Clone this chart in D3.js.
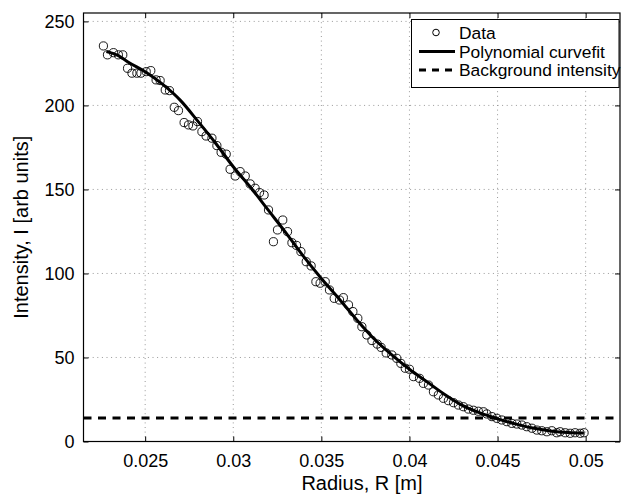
<!DOCTYPE html>
<html><head><meta charset="utf-8">
<script src="https://cdn.jsdelivr.net/npm/d3@7"></script>
<style>body{margin:0;background:#fff}svg{display:block}text{font-family:"Liberation Sans",Arial,sans-serif;fill:#000}</style>
</head><body>
<script>
// Data points (Radius [m], Intensity)
const dataR = [0.02263,0.02286,0.02320,0.02348,0.02373,0.02400,0.02425,0.02453,0.02476,0.02506,0.02532,0.02562,0.02585,0.02614,0.02638,0.02665,0.02689,0.02721,0.02746,0.02771,0.02797,0.02822,0.02846,0.02879,0.02907,0.02931,0.02960,0.02982,0.03011,0.03039,0.03068,0.03096,0.03124,0.03149,0.03175,0.03200,0.03228,0.03251,0.03281,0.03308,0.03333,0.03359,0.03384,0.03414,0.03442,0.03469,0.03493,0.03522,0.03546,0.03573,0.03603,0.03625,0.03654,0.03679,0.03707,0.03730,0.03758,0.03787,0.03817,0.03839,0.03868,0.03900,0.03928,0.03951,0.03976,0.04000,0.04023,0.04057,0.04079,0.04108,0.04136,0.04164,0.04193,0.04221,0.04250,0.04278,0.04306,0.04335,0.04363,0.04391,0.04420,0.04439,0.04468,0.04496,0.04524,0.04553,0.04581,0.04609,0.04638,0.04666,0.04695,0.04723,0.04751,0.04780,0.04808,0.04836,0.04855,0.04884,0.04912,0.04940,0.04969,0.04991];
const dataI = [235.4,230.1,231.4,230.1,230.1,222.1,219.2,219.2,219.2,220.1,220.7,215.2,214.8,209.2,208.8,198.9,196.9,189.8,188.4,187.8,190.4,184.4,181.8,180.5,176.1,172.1,171.0,162.0,158.0,160.6,158.0,153.3,150.7,148.1,146.7,137.8,118.9,125.9,131.8,124.9,118.3,116.7,113.0,107.0,104.5,95.1,94.2,95.1,90.2,85.2,84.2,85.6,81.3,77.3,73.3,68.3,63.4,60.1,58.0,56.0,52.7,51.5,49.5,46.5,43.6,43.0,38.6,37.6,34.6,33.6,29.6,27.7,25.7,24.3,23.1,21.7,20.7,19.3,18.6,18.0,17.7,16.4,14.8,13.8,12.8,11.8,10.8,10.4,9.8,8.8,7.9,6.8,6.4,5.8,6.4,5.2,5.8,5.2,4.9,5.2,4.9,5.2];
// Polynomial curvefit
const fitR = [0.0228,0.0235,0.024,0.025,0.026,0.027,0.028,0.029,0.030,0.031,0.032,0.033,0.034,0.035,0.036,0.037,0.038,0.039,0.040,0.041,0.042,0.043,0.044,0.045,0.046,0.047,0.048,0.049,0.0499];
const fitI = [232,229.5,226,220,212.5,203,190.5,177.5,163.5,151,137.5,124,110,97,85,72.5,61,51.5,43,35.5,28,21.5,17,13.5,10.5,8,6.3,5.3,5];
const backgroundI = 14;
const xTicks = [0.025,0.03,0.035,0.04,0.045,0.05];
const xTickLabels = ["0.025","0.03","0.035","0.04","0.045","0.05"];
const yTicks = [0,50,100,150,200,250];
const legendLabels = ["Data","Polynomial curvefit","Background intensity"];
const xLabel = "Radius, R [m]";
const yLabel = "Intensity, I [arb units]";

const W=623,H=499;
const m={l:83.5,r:620,t:13,b:441.5};
const svg=d3.select("body").append("svg").attr("width",W).attr("height",H);
const x=d3.scaleLinear().domain([0.0215,0.05195]).range([m.l,m.r]);
const y=d3.scaleLinear().domain([0,255]).range([m.b,m.t]);

// grid
const g=svg.append("g");
g.selectAll(".gx").data(xTicks).enter().append("line")
 .attr("x1",d=>x(d)).attr("x2",d=>x(d)).attr("y1",m.t).attr("y2",m.b)
 .attr("stroke","#999").attr("stroke-width",1).attr("stroke-dasharray","1,3.6");
g.selectAll(".gy").data(yTicks.filter(d=>d>0)).enter().append("line")
 .attr("y1",d=>y(d)).attr("y2",d=>y(d)).attr("x1",m.l).attr("x2",m.r)
 .attr("stroke","#999").attr("stroke-width",1).attr("stroke-dasharray","1,3.6");

// axes
const fmtX=(d,i)=>xTickLabels[i];
const axB=d3.axisBottom(x).tickValues(xTicks).tickFormat(fmtX).tickSize(-5).tickPadding(13);
const axL=d3.axisLeft(y).tickValues(yTicks).tickSize(-5).tickPadding(9);
const axT=d3.axisTop(x).tickValues(xTicks).tickFormat("").tickSize(-5);
const axR=d3.axisRight(y).tickValues(yTicks).tickFormat("").tickSize(-5);
function style(sel){sel.select(".domain").remove();sel.selectAll("line").attr("stroke","#000");sel.selectAll("text").attr("font-size",18).attr("font-family","'Liberation Sans',Arial,sans-serif");}
svg.append("g").attr("transform",`translate(0,${m.b})`).call(axB).call(style);
svg.append("g").attr("transform",`translate(${m.l},0)`).call(axL).call(style);
svg.append("g").attr("transform",`translate(0,${m.t})`).call(axT).call(style);
svg.append("g").attr("transform",`translate(${m.r},0)`).call(axR).call(style);
svg.append("rect").attr("x",m.l).attr("y",m.t).attr("width",m.r-m.l).attr("height",m.b-m.t)
 .attr("fill","none").attr("stroke","#000").attr("stroke-width",1.2);

// background line
svg.append("line").attr("x1",m.l).attr("x2",m.r).attr("y1",y(backgroundI)).attr("y2",y(backgroundI))
 .attr("stroke","#000").attr("stroke-width",3).attr("stroke-dasharray","8,6.5");

// fit
const pts=fitR.map((r,i)=>[r,fitI[i]]);
svg.append("path").datum(pts).attr("fill","none").attr("stroke","#000").attr("stroke-width",3)
 .attr("d",d3.line().x(d=>x(d[0])).y(d=>y(d[1])).curve(d3.curveMonotoneX));

// data
svg.append("g").selectAll("circle").data(dataR.map((r,i)=>[r,dataI[i]])).enter().append("circle")
 .attr("cx",d=>x(d[0])).attr("cy",d=>y(d[1])).attr("r",4.1)
 .attr("fill","none").attr("stroke","#000").attr("stroke-width",0.9);

// labels
svg.append("text").attr("x",362).attr("y",490).attr("text-anchor","middle").attr("font-size",20).text(xLabel);
svg.append("text").attr("transform",`translate(28,${(m.t+m.b)/2}) rotate(-90)`).attr("text-anchor","middle").attr("font-size",20).text(yLabel);

// legend
const lg=svg.append("g");
lg.append("rect").attr("x",411.5).attr("y",19.5).attr("width",207.5).attr("height",68).attr("fill","#fff").attr("stroke","#000").attr("stroke-width",1);
const ly=[32.5,51.5,70];
lg.append("circle").attr("cx",436).attr("cy",ly[0]).attr("r",3.3).attr("fill","none").attr("stroke","#000").attr("stroke-width",1);
lg.append("line").attr("x1",419).attr("x2",455).attr("y1",ly[1]).attr("y2",ly[1]).attr("stroke","#000").attr("stroke-width",3);
lg.append("line").attr("x1",419).attr("x2",458).attr("y1",ly[2]).attr("y2",ly[2]).attr("stroke","#000").attr("stroke-width",3).attr("stroke-dasharray","7,6");
lg.selectAll("text.l").data(legendLabels).enter().append("text")
 .attr("x",459).attr("y",(d,i)=>ly[i]).attr("dy","0.36em").attr("font-size",17.4).text(d=>d);
</script>
</body></html>
